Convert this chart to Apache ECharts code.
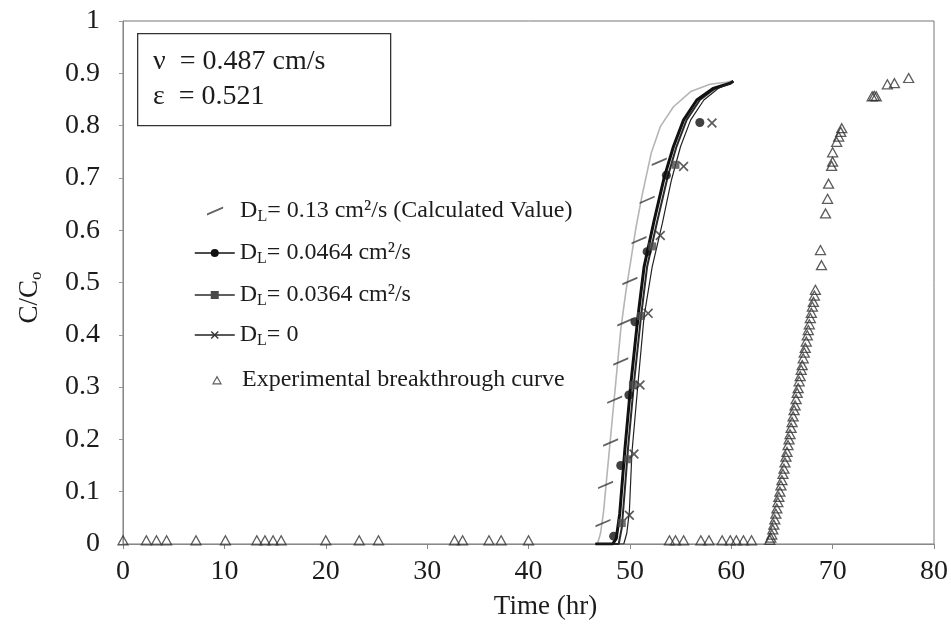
<!DOCTYPE html>
<html>
<head>
<meta charset="utf-8">
<script src="https://cdn.jsdelivr.net/npm/echarts@6/dist/echarts.min.js"></script>
<style>
  html, body { margin: 0; padding: 0; background: #fff; }
  #chart { width: 951px; height: 635px; }
</style>
</head>
<body>
<div id="chart"></div>
<script>
// Breakthrough curves: time (hr) vs C/Co

// Model curves (continuous lines)
const curveDL013 = [[46.6,0],[46.8,0],[47.1,0.02],[47.4,0.061],[47.7,0.123],[48.1,0.205],[48.6,0.307],[49.1,0.41],[49.6,0.482],[50.1,0.543],[50.6,0.605],[51.2,0.666],[52.1,0.747],[53.0,0.798],[54.3,0.836],[56.0,0.865],[57.9,0.879],[59.5,0.883],[60.0,0.885]];
const curveDL0464 = [[46.6,0],[48.3,0],[48.65,0.01],[49.0,0.058],[49.5,0.179],[50.1,0.307],[50.8,0.435],[51.4,0.53],[52.4,0.619],[53.4,0.702],[54.3,0.76],[55.3,0.811],[56.6,0.849],[58.2,0.871],[59.9,0.881],[60.2,0.885]];
const curveDL0364 = [[46.6,0],[48.9,0],[49.2,0.031],[49.5,0.103],[49.8,0.179],[50.4,0.307],[51.1,0.435],[51.7,0.53],[52.7,0.617],[53.7,0.7],[54.6,0.76],[55.6,0.811],[56.9,0.849],[58.4,0.871],[59.9,0.881],[60.2,0.885]];
const curveDL0 = [[46.6,0],[49.4,0],[49.7,0.021],[49.95,0.062],[50.2,0.174],[50.8,0.307],[51.4,0.435],[52.2,0.53],[53.2,0.613],[54.1,0.696],[55.0,0.76],[56.0,0.811],[57.3,0.849],[58.7,0.871],[59.9,0.881],[60.2,0.885]];

// Marker points of each model series
const marksDL013 = [[47.35,0.04],[47.6,0.113],[48.1,0.194],[48.5,0.276],[49.1,0.349],[49.5,0.424],[50.0,0.503],[50.9,0.581],[51.7,0.658],[52.9,0.731]];
const marksDL0464 = [[48.4,0.015],[49.1,0.15],[49.9,0.285],[50.5,0.425],[51.7,0.559],[53.6,0.705],[56.9,0.806]];
const marksDL0364 = [[49.2,0.04],[49.8,0.162],[50.3,0.304],[51.1,0.436],[52.2,0.569],[54.5,0.725]];
const marksDL0 = [[49.95,0.055],[50.4,0.172],[51.0,0.304],[51.8,0.441],[53.0,0.59],[55.3,0.722],[58.1,0.805]];

// Experimental breakthrough curve
const expTime = [0,2.3,3.3,4.3,7.2,10.1,13.2,14.0,14.8,15.6,20.0,23.3,25.2,32.7,33.5,36.1,37.3,40.0,
  53.9,54.5,55.3,57.0,57.8,59.1,59.9,60.5,61.2,62.0,
  63.8,63.9,64.0,64.1,64.2,64.3,64.4,64.5,64.6,64.7,64.8,64.9,65.0,65.1,65.2,65.3,65.4,65.5,65.6,65.7,65.8,65.9,66.0,66.1,66.2,66.3,66.4,66.5,66.6,66.7,66.8,66.9,67.0,67.1,67.2,67.3,67.4,67.5,67.6,67.7,67.8,67.9,68.0,68.1,68.2,68.3,
  68.9,68.8,69.3,69.5,69.6,69.9,70.0,70.0,70.4,70.6,70.8,70.9,73.9,74.1,74.3,75.4,76.1,77.5];
const expConc = [0.007,0.007,0.007,0.007,0.007,0.007,0.007,0.007,0.007,0.007,0.007,0.007,0.007,0.007,0.007,0.007,0.007,0.007,
  0.007,0.007,0.007,0.007,0.007,0.007,0.007,0.007,0.007,0.007,
  0.008,0.012,0.018,0.028,0.037,0.047,0.058,0.068,0.08,0.09,0.1,0.112,0.122,0.134,0.144,0.156,0.167,0.176,0.189,0.2,0.21,0.222,0.233,0.244,0.256,0.265,0.277,0.289,0.298,0.311,0.321,0.333,0.342,0.355,0.366,0.375,0.387,0.399,0.409,0.42,0.432,0.442,0.454,0.463,0.475,0.486,
  0.533,0.562,0.632,0.66,0.689,0.723,0.731,0.749,0.769,0.779,0.788,0.795,0.856,0.857,0.856,0.879,0.881,0.891];

// Axis ranges
const xMin = 0, xMax = 80, xStep = 10;
const yMin = 0, yMax = 1, yStep = 0.1;

// Legend labels
const legendLabels = {
  DL013: 'D{s|L}= 0.13 cm²/s (Calculated Value)',
  DL0464: 'D{s|L}= 0.0464 cm²/s',
  DL0364: 'D{s|L}= 0.0364 cm²/s',
  DL0: 'D{s|L}= 0',
  Exp: 'Experimental breakthrough curve'
};

const FONT = '"Liberation Serif", "Times New Roman", serif';
const INK = '#1c1c1c';
const dashIcon = 'path://M0,6 L14,0 L14,1.8 L0,7.8 Z';
const crossIcon = 'path://M0,1.2 L1.2,0 L5,3.8 L8.8,0 L10,1.2 L6.2,5 L10,8.8 L8.8,10 L5,6.2 L1.2,10 L0,8.8 L3.8,5 Z';
// outlined triangle (outer edge + reversed inner edge leaves a hollow shape)
const hollowTriangle = 'path://M5,0 L10,9 L0,9 Z M5,2.5 L1.9,7.8 L8.1,7.8 Z';

const expData = expTime.map((t, i) => [t, expConc[i]]);

const chart = echarts.init(document.getElementById('chart'), null, { renderer: 'canvas' });

const legendRows = [
  { name: 'DL013', top: 199, left: 207, icon: dashIcon, h: 9 },
  { name: 'DL0464', top: 241, left: 194, h: 10 },
  { name: 'DL0364', top: 283, left: 194, h: 10 },
  { name: 'DL0', top: 323, left: 194, h: 10 },
  { name: 'Exp', top: 368, left: 212, icon: hollowTriangle, h: 9, itemStyle: { color: '#333', borderWidth: 0 } }
];

const subStyle = { fontFamily: FONT, fontSize: 16, color: INK, padding: [12, 0, 0, 0] };

chart.setOption({
  animation: false,
  backgroundColor: '#fff',
  grid: { left: 123, right: 8, top: 21, bottom: 91, show: true, borderColor: '#777', borderWidth: 1 },
  xAxis: {
    type: 'value', min: xMin, max: xMax, interval: xStep,
    name: 'Time (hr)', nameLocation: 'middle', nameGap: 49,
    nameTextStyle: { fontFamily: FONT, fontSize: 27, color: INK, padding: [0, 0, 0, 34] },
    axisLine: { lineStyle: { color: '#888', width: 1 } },
    axisTick: { inside: false, length: 5, lineStyle: { color: '#888' } },
    axisLabel: { fontFamily: FONT, fontSize: 28, color: INK, margin: 14 },
    splitLine: { show: false }
  },
  yAxis: {
    type: 'value', min: yMin, max: yMax, interval: yStep,
    name: 'C/C{s|o}', nameLocation: 'middle', nameGap: 78,
    nameTextStyle: { fontFamily: FONT, fontSize: 27, color: INK, padding: [0, 30, 0, 0],
      rich: { s: { fontFamily: FONT, fontSize: 17, color: INK, padding: [14, 0, 0, 0] } } },
    axisLine: { show: true, lineStyle: { color: '#888', width: 1 } },
    axisTick: { show: true, inside: false, length: 4, lineStyle: { color: '#999' } },
    axisLabel: { fontFamily: FONT, fontSize: 28, color: INK, margin: 23 },
    splitLine: { show: false }
  },
  legend: legendRows.map(r => ({
    data: [r.icon ? Object.assign({ name: r.name, icon: r.icon }, r.itemStyle ? { itemStyle: r.itemStyle } : {}) : r.name],
    left: r.left, top: r.top, padding: 0, orient: 'vertical',
    itemWidth: 40, itemHeight: r.h, selectedMode: false, symbolKeepAspect: true,
    lineStyle: { width: 1.5 },
    formatter: n => legendLabels[n],
    textStyle: { fontFamily: FONT, fontSize: 24, color: INK, rich: { s: subStyle } }
  })),
  graphic: [
    { type: 'rect', left: 137, top: 33, shape: { width: 253, height: 92 },
      style: { fill: '#fff', stroke: '#333', lineWidth: 1.3 }, z: 10 },
    { type: 'text', left: 153, top: 48, z: 11,
      style: { text: 'ν  = 0.487 cm/s', font: '28px "Liberation Serif"', fill: INK } },
    { type: 'text', left: 153, top: 83, z: 11,
      style: { text: 'ε  = 0.521', font: '28px "Liberation Serif"', fill: INK } }
  ],
  series: [
    { name: 'DL013line', type: 'line', data: curveDL013, symbol: 'none', showSymbol: false,
      lineStyle: { color: '#b5b5b5', width: 1.6 }, z: 2 },
    { name: 'DL013', type: 'scatter', data: marksDL013, symbol: dashIcon, symbolSize: [15, 8.4],
      itemStyle: { color: '#3a3a3a' }, z: 4 },
    { name: 'DL0364', type: 'line', data: curveDL0364, symbol: 'rect', showSymbol: false,
      lineStyle: { color: '#2a2a2a', width: 2 }, itemStyle: { color: '#4a4a4a' }, z: 3 },
    { name: 'DL0464', type: 'line', data: curveDL0464, symbol: 'circle', showSymbol: false,
      lineStyle: { color: '#111', width: 3 }, itemStyle: { color: '#111' }, z: 3 },
    { name: 'DL0', type: 'line', data: curveDL0, symbol: crossIcon, showSymbol: false,
      lineStyle: { color: '#222', width: 1.2 }, itemStyle: { color: '#333' }, z: 3 },
    { name: 'DL0464marks', type: 'scatter', data: marksDL0464, symbol: 'circle', symbolSize: 9,
      itemStyle: { color: '#111' }, z: 5 },
    { name: 'DL0364marks', type: 'scatter', data: marksDL0364, symbol: 'rect', symbolSize: 8,
      itemStyle: { color: '#4a4a4a' }, z: 5 },
    { name: 'DL0marks', type: 'scatter', data: marksDL0, symbol: crossIcon, symbolSize: 10,
      itemStyle: { color: '#333' }, z: 5 },
    { name: 'Exp', type: 'scatter', data: expData, symbol: 'triangle', symbolSize: [10, 9],
      itemStyle: { color: 'rgba(255,255,255,0)', borderColor: '#333', borderWidth: 1.3 }, z: 6 }
  ]
});
</script>
</body>
</html>
